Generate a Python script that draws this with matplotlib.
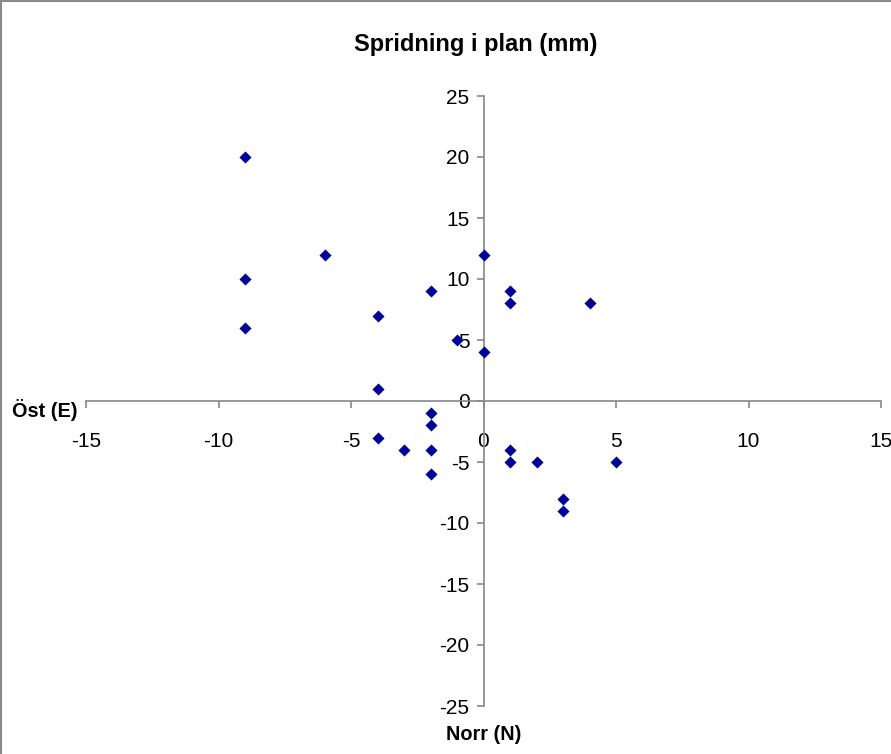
import matplotlib
matplotlib.use("Agg")
import matplotlib.pyplot as plt
from matplotlib.lines import Line2D

# spridning i plan, värden i mm
ost = [-9, -9, -9, -6, -4, -4, -4, -3, -2, -2, -2, -2, -2, -1,
       0, 0, 1, 1, 1, 1, 2, 3, 3, 4, 5]
norr = [20, 10, 6, 12, 7, 1, -3, -4, 9, -1, -2, -4, -6, 5,
        12, 4, 9, 8, -4, -5, -5, -8, -9, 8, -5]

xticks = [-15, -10, -5, 0, 5, 10, 15]
yticks = [-25, -20, -15, -10, -5, 0, 5, 10, 15, 20, 25]

plt.rcParams['font.family'] = ['Liberation Sans', 'DejaVu Sans']
plt.rcParams['axes.unicode_minus'] = False

fig = plt.figure(figsize=(8.91, 7.54), dpi=100)
ax = fig.add_axes([86/891, 1-706/754, (881-86)/891, (706-96)/754])

# ram runt diagrammet (bara vänster och överkant syns)
fig.add_artist(Line2D([0.001, 0.001], [0, 0.999], color='#888888', lw=1.5))
fig.add_artist(Line2D([0.001, 1], [0.999, 0.999], color='#888888', lw=1.5))

ax.scatter(ost, norr, marker='D', s=38, color='#000099', zorder=3, linewidths=0)

ax.set_xlim(-15, 15)
ax.set_ylim(-25, 25)
ax.set_xticks(xticks)
ax.set_yticks(yticks)

# axlar genom origo
ax.spines['left'].set_position(('data', 0))
ax.spines['bottom'].set_position(('data', 0))
ax.spines['right'].set_visible(False)
ax.spines['top'].set_visible(False)
for s in ('left', 'bottom'):
    ax.spines[s].set_color('#888888')
    ax.spines[s].set_linewidth(1.2)
ax.tick_params(direction='out', length=5, color='#888888', width=1.2,
               labelsize=15, labelcolor='black')
ax.tick_params(axis='x', pad=17)
ax.tick_params(axis='y', pad=5)

fig.text(476/891, 1-45/754, 'Spridning i plan (mm)', ha='center', va='center',
         fontsize=17, fontweight='bold')
fig.text(12/891, 1-410/754, 'Öst (E)', ha='left', va='center',
         fontsize=14.3, fontweight='bold')
fig.text(484/891, 1-735/754, 'Norr (N)', ha='center', va='center',
         fontsize=14.3, fontweight='bold')

plt.savefig('out.png', dpi=100)
